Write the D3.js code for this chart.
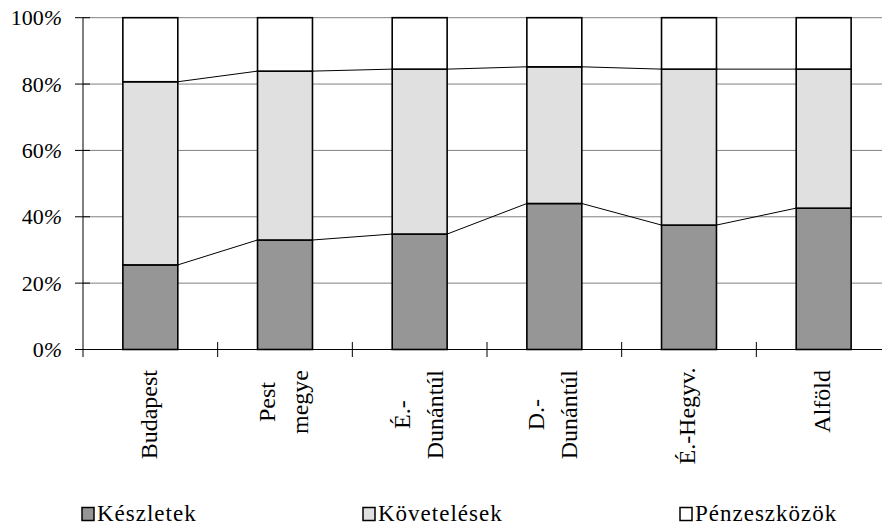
<!DOCTYPE html>
<html>
<head>
<meta charset="utf-8">
<script src="https://cdn.jsdelivr.net/npm/d3@7"></script>
<style>
  html, body { margin: 0; padding: 0; background: #fff; }
  svg { display: block; font-family: "Liberation Serif", "Times New Roman", serif; }
</style>
</head>
<body>
<svg id="chart" width="882" height="531"></svg>
<script>
// ---- data ----
const categories = [["Budapest"], ["Pest", "megye"], ["É.-", "Dunántúl"], ["D.-", "Dunántúl"], ["É.-Hegyv."], ["Alföld"]];
const keszletek   = [25.5, 33.0, 34.8, 44.0, 37.5, 42.6];
const kovetelesek = [55.2, 50.9, 49.7, 41.2, 47.0, 41.9];
const penzeszk    = [19.3, 16.1, 15.5, 14.8, 15.5, 15.5];
const seriesNames = ["Készletek", "Követelések", "Pénzeszközök"];
const yTicks = [0, 20, 40, 60, 80, 100];

// ---- layout ----
const svg = d3.select("#chart");
const colors = ["#969696", "#e0e0e0", "#ffffff"];
const keys = categories.map(c => c.join(" "));
const x = d3.scaleBand().domain(keys).range([83, 891]).paddingInner(0.592).paddingOuter(0.296);
const y = d3.scaleLinear().domain([0, 100]).range([349.5, 17.7]);

const rows = keys.map((k, i) => ({ key: k, s0: keszletek[i], s1: kovetelesek[i], s2: penzeszk[i] }));
const stack = d3.stack().keys(["s0", "s1", "s2"])(rows);

// gridlines
svg.append("g").selectAll("line").data(yTicks.filter(t => t > 0)).join("line")
  .attr("x1", 83).attr("x2", 891)
  .attr("y1", d => y(d)).attr("y2", d => y(d))
  .attr("stroke", "#808080").attr("stroke-width", 1);

// connector lines
const lineG = svg.append("g");
[0, 1].forEach(si => {
  const layer = stack[si];
  for (let i = 0; i < layer.length - 1; i++) {
    lineG.append("line")
      .attr("x1", x(keys[i]) + x.bandwidth()).attr("y1", y(layer[i][1]))
      .attr("x2", x(keys[i + 1])).attr("y2", y(layer[i + 1][1]))
      .attr("stroke", "#000").attr("stroke-width", 1);
  }
});

// bars
svg.append("g").selectAll("g").data(stack).join("g")
  .attr("fill", (d, i) => colors[i])
  .selectAll("rect").data(d => d).join("rect")
  .attr("x", d => x(d.data.key))
  .attr("width", x.bandwidth())
  .attr("y", d => y(d[1]))
  .attr("height", d => y(d[0]) - y(d[1]))
  .attr("stroke", "#000").attr("stroke-width", 1.6);

// y axis
const yAxis = svg.append("g");
yAxis.append("line").attr("x1", 83).attr("x2", 83).attr("y1", y(100)).attr("y2", 357)
  .attr("stroke", "#000");
yAxis.selectAll(".tk").data(yTicks).join("line")
  .attr("x1", 75).attr("x2", 90).attr("y1", d => y(d)).attr("y2", d => y(d))
  .attr("stroke", "#000");
const yl = yAxis.selectAll("text").data(yTicks).join("text")
  .attr("x", 62).attr("y", d => y(d)).attr("dy", "0.35em")
  .attr("text-anchor", "end").attr("font-size", 22).attr("fill", "#000");
yl.append("tspan").text(d => d);
yl.append("tspan").attr("font-style", "italic").text("%");

// x axis
const xAxis = svg.append("g");
xAxis.append("line").attr("x1", 75).attr("x2", 891).attr("y1", y(0)).attr("y2", y(0)).attr("stroke", "#000");
const bounds = d3.range(1, keys.length + 1).map(i => 83 + x.step() * i);
xAxis.selectAll(".xt").data(bounds).join("line")
  .attr("x1", d => d).attr("x2", d => d).attr("y1", 342).attr("y2", 357).attr("stroke", "#000");

// category labels (rotated)
categories.forEach((lines, i) => {
  const cx = x(keys[i]) + x.bandwidth() / 2 - 2;
  const g = svg.append("g");
  const t = g.append("text").attr("font-size", 24).attr("text-anchor", "middle").attr("fill", "#000");
  const n = lines.length;
  lines.forEach((ln, j) => {
    t.append("tspan").attr("x", 0).attr("y", (j - (n - 1) / 2) * 33).attr("dy", "0.35em").text(ln);
  });
  let w = 0;
  t.selectAll("tspan").each(function () { w = Math.max(w, this.getComputedTextLength()); });
  const cy = Math.min(416, 370 + w / 2);
  g.attr("transform", `translate(${cx},${cy}) rotate(-90)`);
});

// legend
const legendX = [82, 363, 680];
const lg = svg.append("g");
seriesNames.forEach((name, i) => {
  lg.append("rect").attr("x", legendX[i]).attr("y", 507.5).attr("width", 12).attr("height", 13)
    .attr("fill", colors[i]).attr("stroke", "#000").attr("stroke-width", 1.5);
  lg.append("text").attr("x", legendX[i] + 15).attr("y", 521)
    .attr("font-size", 23).attr("letter-spacing", 1).attr("fill", "#000").text(name);
});
</script>
</body>
</html>
